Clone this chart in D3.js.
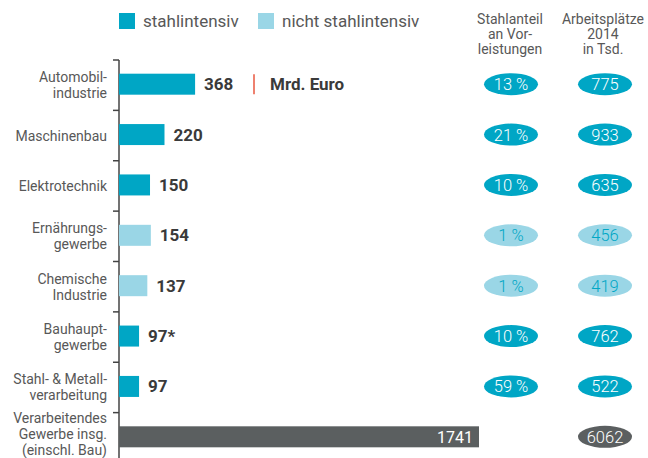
<!DOCTYPE html>
<html>
<head>
<meta charset="utf-8">
<script src="https://cdn.jsdelivr.net/npm/d3@7"></script>
<style>
  body { margin: 0; background: #fff; }
  svg text { font-family: Roboto, "Open Sans", sans-serif; }
</style>
</head>
<body>
<svg width="648" height="458"></svg>
<script>
// data
const categories = ["Automobil-\nindustrie", "Maschinenbau", "Elektrotechnik", "Ernährungs-\ngewerbe",
  "Chemische\nIndustrie", "Bauhaupt-\ngewerbe", "Stahl- & Metall-\nverarbeitung",
  "Verarbeitendes\nGewerbe insg.\n(einschl. Bau)"];
const values = [368, 220, 150, 154, 137, 97, 97, 1741];
const valueLabels = ["368", "220", "150", "154", "137", "97*", "97", "1741"];
const types = ["s", "s", "s", "n", "n", "s", "s", "t"];
const steelShare = ["13 %", "21 %", "10 %", "1 %", "1 %", "10 %", "59 %", null];
const jobs = ["775", "933", "635", "456", "419", "762", "522", "6062"];

const colors = { s: "#00a6c5", n: "#9ad6e6", t: "#5b5f60" };
const textGray = "#585858";

const svg = d3.select("svg");
const left = 119;

const y = d3.scaleBand().domain(categories).range([60, 463]).padding(0);
const x = d3.scaleLinear().domain([0, 1741]).range([left, 479]);
const barH = 21;

// legend
const legend = [{ t: "s", label: "stahlintensiv", x: 119 }, { t: "n", label: "nicht stahlintensiv", x: 258 }];
legend.forEach(l => {
  svg.append("rect").attr("x", l.x).attr("y", 13).attr("width", 16).attr("height", 16).attr("fill", colors[l.t]);
  svg.append("text").attr("x", l.x + 24).attr("y", 27).attr("font-size", 17).attr("fill", textGray).text(l.label);
});

// column headers
const headers = [
  { x: 510, lines: ["Stahlanteil", "an Vor-", "leistungen"] },
  { x: 603, lines: ["Arbeitsplätze", "2014", "in Tsd."] }
];
headers.forEach(h => {
  const t = svg.append("text").attr("text-anchor", "middle").attr("font-size", 14).attr("fill", textGray);
  h.lines.forEach((s, i) => t.append("tspan").attr("x", h.x).attr("y", 24 + i * 15).text(s));
});

// axis line + ticks at band starts
svg.append("line").attr("x1", left).attr("x2", left).attr("y1", 60).attr("y2", 458)
  .attr("stroke", "#444").attr("stroke-width", 1.5);
svg.selectAll(".tick").data(categories).enter().append("line")
  .attr("x1", left - 6).attr("x2", left)
  .attr("y1", d => y(d)).attr("y2", d => y(d))
  .attr("stroke", "#444").attr("stroke-width", 1.5);

// category labels
svg.selectAll(".cat").data(categories).enter().append("text")
  .attr("text-anchor", "end").attr("font-size", 14).attr("fill", textGray)
  .each(function (d) {
    const lines = d.split("\n");
    const cy = y(d) + y.bandwidth() / 2;
    const lh = 16;
    const off = lines.length > 2 ? 1 : 5;
    lines.forEach((s, i) => {
      d3.select(this).append("tspan").attr("x", 107)
        .attr("y", cy + off + (i - (lines.length - 1) / 2) * lh).text(s);
    });
  });

// bars
svg.selectAll(".bar").data(categories).enter().append("rect")
  .attr("x", left)
  .attr("y", d => y(d) + y.bandwidth() / 2 - barH / 2 - 1)
  .attr("width", (d, i) => x(values[i]) - left)
  .attr("height", barH)
  .attr("fill", (d, i) => colors[types[i]]);

// value labels
svg.selectAll(".val").data(categories).enter().append("text")
  .attr("x", (d, i) => types[i] === "t" ? x(values[i]) - 6 : x(values[i]) + 9)
  .attr("y", d => y(d) + y.bandwidth() / 2 + 5)
  .attr("text-anchor", (d, i) => types[i] === "t" ? "end" : "start")
  .attr("font-size", (d, i) => types[i] === "t" ? 16 : 17)
  .attr("font-weight", (d, i) => types[i] === "t" ? 400 : 700)
  .attr("fill", (d, i) => types[i] === "t" ? "#fff" : "#3a3a3a")
  .text((d, i) => valueLabels[i]);

// unit label next to first value
const c0 = y(categories[0]) + y.bandwidth() / 2 - 1;
svg.append("line").attr("x1", 254).attr("x2", 254).attr("y1", c0 - 10).attr("y2", c0 + 10)
  .attr("stroke", "#e8573f").attr("stroke-width", 1.5);
svg.append("text").attr("x", 270).attr("y", c0 + 6).attr("font-size", 17).attr("font-weight", 700)
  .attr("fill", "#3a3a3a").text("Mrd. Euro");

// ellipses
function pills(col, cx) {
  categories.forEach((d, i) => {
    if (col[i] == null) return;
    const cy = y(d) + y.bandwidth() / 2 - 1;
    const t = types[i];
    svg.append("ellipse").attr("cx", cx).attr("cy", cy).attr("rx", 27).attr("ry", 11)
      .attr("fill", colors[t]);
    svg.append("text").attr("x", cx).attr("y", cy + 6).attr("text-anchor", "middle")
      .attr("font-size", 16.5).attr("font-weight", 300)
      .attr("fill", t === "n" ? "#00a6c5" : "#fff").text(col[i]);
  });
}
pills(steelShare, 511);
pills(jobs, 605);
</script>
</body>
</html>
